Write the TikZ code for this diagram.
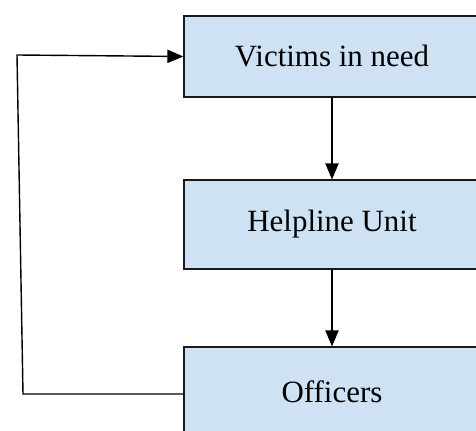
\documentclass[tikz,border=0pt]{standalone}
\usepackage{fontspec}
\setmainfont{Liberation Serif}
\usepackage{xcolor}
\definecolor{hlblue}{RGB}{207,226,243}
\usepackage{tikz}
\usetikzlibrary{arrows.meta}

\begin{document}
\begin{tikzpicture}[x=0.025cm,y=-0.025cm,
  unitbox/.style={draw=black!90,line width=0.9pt,fill=hlblue,minimum width=7.4cm,
    inner sep=0pt,font=\fontsize{22}{26}\selectfont},
  flow/.style={line width=1pt,-{Triangle[length=0.4cm,width=0.33cm]}}]
\useasboundingbox (0,0) rectangle (476,431);
% ---- skrzynki ----
\node[unitbox,minimum height=2.02cm] (victims) at (332,56.5) {Victims in need};
\node[unitbox,minimum height=2.22cm] (helpline) at (332,224.5) {Helpline Unit};
\node[unitbox,minimum height=2.22cm] (officers) at (332,391.5) {Officers};
% ---- polaczenia ----
\draw[flow] (victims.south) -- (helpline.north);
\draw[flow] (helpline.south) -- (officers.north);
\coordinate (loopbot) at (23,394);
\coordinate (looptop) at (17,55);
\draw[flow] (officers.west |- loopbot) -- (loopbot) -- (looptop) -- (victims.west);
\end{tikzpicture}
\end{document}
